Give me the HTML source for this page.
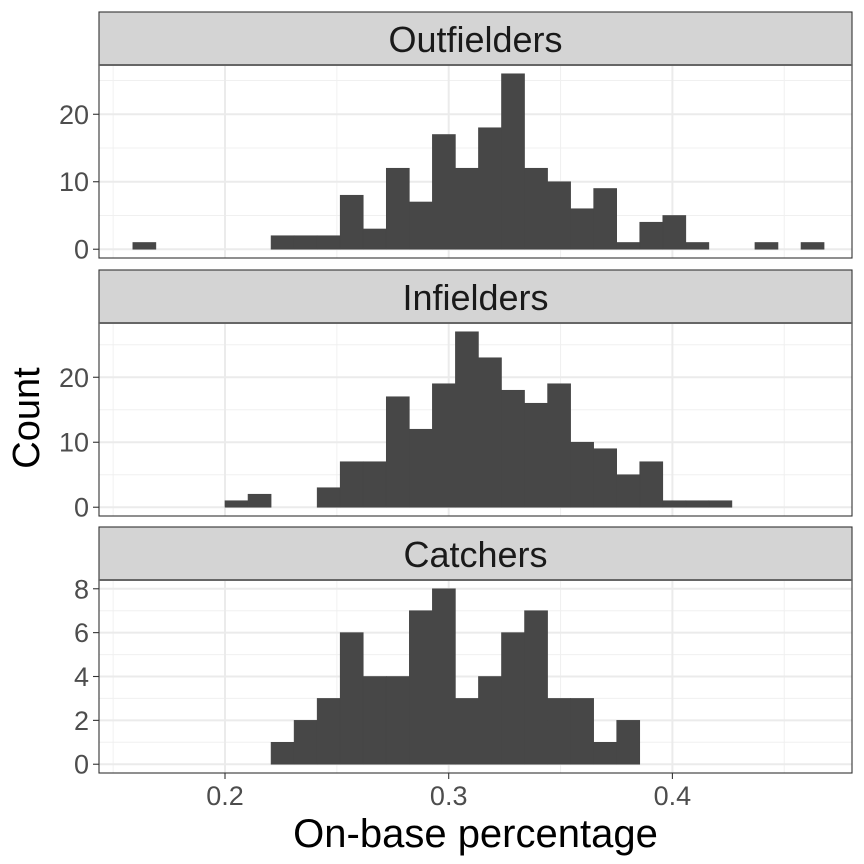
<!DOCTYPE html>
<html><head><meta charset="utf-8"><style>
body{margin:0;background:#fff}
svg{display:block;font-family:"Liberation Sans",sans-serif}
</style></head><body>
<svg id="chart" width="864" height="864"></svg>
<script>
const binStart = 0.1588;
const binWidth = 0.0103;
const panelNames = ["Outfielders","Infielders","Catchers"];
const outfielderCounts = [1,0,0,0,0,0,2,2,2,8,3,12,7,17,12,18,26,12,10,6,9,1,4,5,1,0,0,1,0,1];
const infielderCounts  = [0,0,0,0,1,2,0,0,3,7,7,17,12,19,27,23,18,16,19,10,9,5,7,1,1,1,0,0,0,0];
const catcherCounts    = [0,0,0,0,0,0,1,2,3,6,4,4,7,8,3,4,6,7,3,3,1,2,0,0,0,0,0,0,0,0];
const xTicks = [0.2,0.3,0.4];
const xTickLabels = ["0.2","0.3","0.4"];
const xMinor = [0.15,0.25,0.35,0.45];
const yTicks1 = [0,10,20], yMinor1 = [5,15,25];
const yTicks2 = [0,10,20], yMinor2 = [5,15,25];
const yTicks3 = [0,2,4,6,8], yMinor3 = [1,3,5,7];

const NS="http://www.w3.org/2000/svg";
const svg=document.getElementById('chart');
function mk(tag,attrs,parent){const e=document.createElementNS(NS,tag);for(const k in attrs)e.setAttribute(k,attrs[k]);(parent||svg).appendChild(e);return e;}
const L=99,R=852;
function xS(v){return 225+(v-0.2)*2237;}
const panels=[
 {name:panelNames[0],data:outfielderCounts,ticks:yTicks1,minor:yMinor1,stripTop:12,top:65,bottom:258,max:26},
 {name:panelNames[1],data:infielderCounts,ticks:yTicks2,minor:yMinor2,stripTop:270,top:323,bottom:516,max:27},
 {name:panelNames[2],data:catcherCounts,ticks:yTicks3,minor:yMinor3,stripTop:527,top:580,bottom:773,max:8}
];
panels.forEach((p,pi)=>{
 const lo=-p.max*0.05, hi=p.max*1.05;
 const yS=v=>p.bottom-(v-lo)/(hi-lo)*(p.bottom-p.top);
 const g=mk('g',{});
 
 
 mk('rect',{x:L,y:p.top,width:R-L,height:p.bottom-p.top,fill:'#fff'},g);
 p.minor.forEach(v=>mk('line',{x1:L,x2:R,y1:yS(v),y2:yS(v),stroke:'#f0f0f0','stroke-width':1},g));
 xMinor.forEach(v=>mk('line',{x1:xS(v),x2:xS(v),y1:p.top,y2:p.bottom,stroke:'#f0f0f0','stroke-width':1},g));
 p.ticks.forEach(v=>mk('line',{x1:L,x2:R,y1:yS(v),y2:yS(v),stroke:'#ebebeb','stroke-width':2},g));
 xTicks.forEach(v=>mk('line',{x1:xS(v),x2:xS(v),y1:p.top,y2:p.bottom,stroke:'#ebebeb','stroke-width':2},g));
 p.data.forEach((c,i)=>{
  if(!c)return;
  const x0=xS(binStart+i*binWidth),x1=xS(binStart+(i+1)*binWidth);
  const r=mk('rect',{x:x0,y:yS(c),width:x1-x0,height:yS(0)-yS(c),fill:'#474747',stroke:'#474747','stroke-width':0.6},g);
  
  
 });
 mk('rect',{x:L,y:p.top,width:R-L,height:p.bottom-p.top,fill:'none',stroke:'#333','stroke-width':1.1},g);
 const s=mk('rect',{x:L,y:p.stripTop,width:R-L,height:p.top-p.stripTop,fill:'#d4d4d4',stroke:'#333','stroke-width':1.1},g);
 
 
 mk('line',{x1:L,x2:R,y1:p.top,y2:p.top,stroke:'#666','stroke-width':2},g);
 const st=mk('text',{x:(L+R)/2,y:p.top-13,'text-anchor':'middle','font-size':36,fill:'#1a1a1a'},g);
 st.textContent=p.name;
 
 
 p.ticks.forEach(v=>{
  mk('line',{x1:L-6,x2:L,y1:yS(v),y2:yS(v),stroke:'#333','stroke-width':1.1},g);
  const t=mk('text',{x:L-10,y:yS(v)+9.5,'text-anchor':'end','font-size':27,fill:'#4d4d4d'},g);
  t.textContent=v;
  
  
 });
 if(pi===2){
  xTicks.forEach((v,i)=>{
   mk('line',{x1:xS(v),x2:xS(v),y1:p.bottom,y2:p.bottom+6,stroke:'#333','stroke-width':1.1},g);
   const t=mk('text',{x:xS(v),y:p.bottom+32,'text-anchor':'middle','font-size':27,fill:'#4d4d4d'},g);
   t.textContent=xTickLabels[i];
   
   
  });
 }
});
const xt=mk('text',{x:(L+R)/2,y:847,'text-anchor':'middle','font-size':40,fill:'#000'});
xt.textContent='On-base percentage';


const yt=mk('text',{x:0,y:0,'text-anchor':'middle','font-size':38,fill:'#000',transform:'translate(39,418) rotate(-90)'});
yt.textContent='Count';


</script>
</body></html>
